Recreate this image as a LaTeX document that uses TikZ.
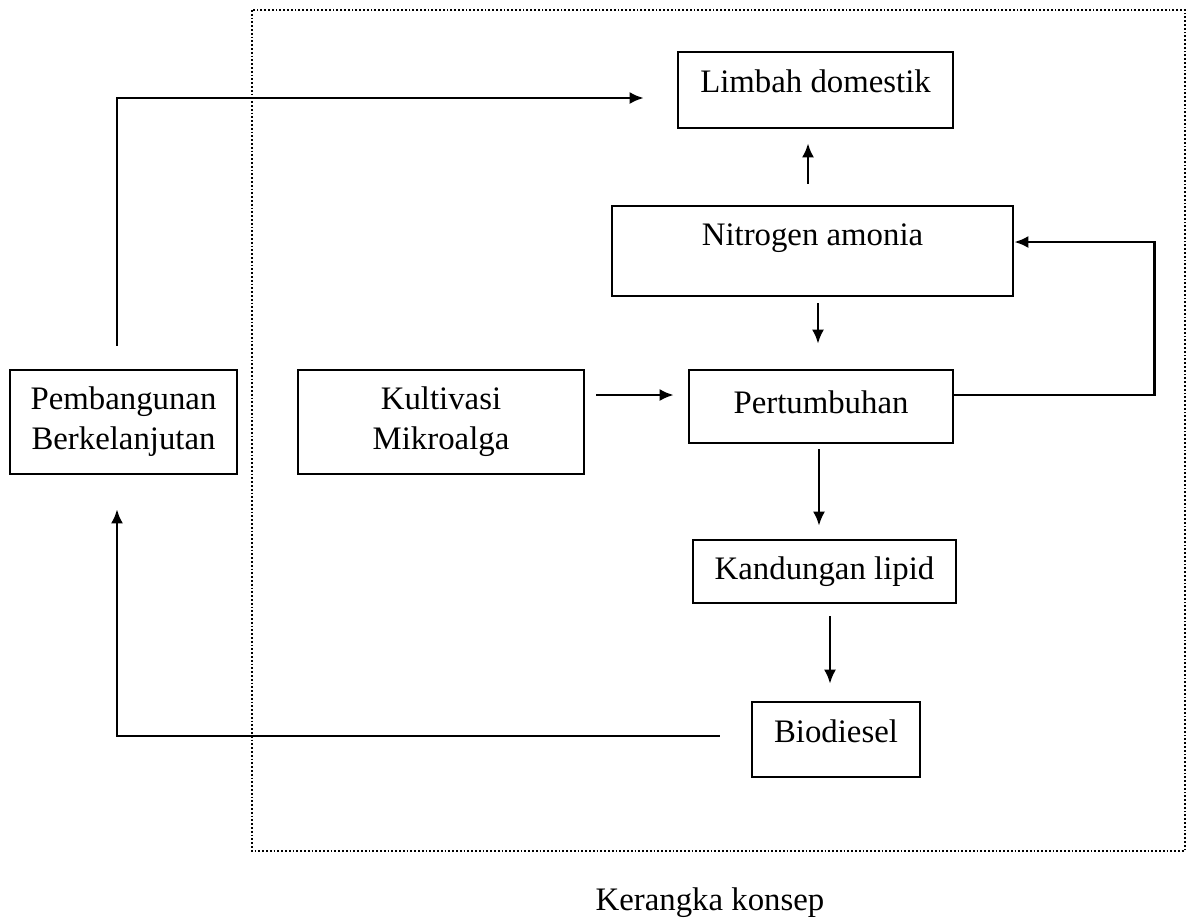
\documentclass[tikz,border=0pt]{standalone}
\usepackage{fontspec}
\setmainfont{Liberation Serif}
\usepackage{tikz}
\usetikzlibrary{arrows.meta,positioning,calc}

\begin{document}
\begin{tikzpicture}[x=0.5pt,y=-0.5pt,>=Latex,
    kotak/.style={draw,line width=1.3pt,inner sep=0pt,align=center,
      font=\fontsize{16.4}{20}\selectfont},
    panah/.style={-{Latex[length=7pt,width=6pt]},line width=1.3pt}]
    \useasboundingbox (0,0) rectangle (1187,923);

    \draw[densely dotted,line width=0.9pt] (252,10) rectangle (1185,851);

    \node[kotak,minimum width=137.5pt,minimum height=38pt,text depth=9pt] (limbah) at (815.5,90) {Limbah domestik};
    \node[kotak,minimum width=200.5pt,minimum height=45pt,text depth=16pt] (nitro) at (812.5,251) {Nitrogen amonia};
    \node[kotak,minimum width=132pt,minimum height=36.5pt,text depth=4.7pt] (tumbuh) at (821,406.5) {Pertumbuhan};
    \node[kotak,minimum width=143pt,minimum height=52pt] (kultur) at (441,422) {Kultivasi\\Mikroalga};
    \node[kotak,minimum width=113.5pt,minimum height=52pt] (bangun) at (123.5,422) {Pembangunan\\Berkelanjutan};
    \node[kotak,minimum width=131.5pt,minimum height=31.5pt] (lipid) at (824.5,571.5) {Kandungan lipid};
    \node[kotak,minimum width=84pt,minimum height=37.5pt,text depth=8.7pt] (biod) at (836,739.5) {Biodiesel};
    \node[font=\fontsize{16.4}{20}\selectfont] (judul) at (710,903) {Kerangka konsep};

    \draw[panah] ([xshift=-3.25pt,yshift=11.5pt]bangun.north) |- ([xshift=-16.5pt,yshift=-4pt]limbah.west);
    \draw[panah] ([xshift=-2.25pt,yshift=10.5pt]nitro.north) -- ([xshift=-3.75pt,yshift=-7pt]limbah.south);
    \draw[panah] ([xshift=2.75pt,yshift=-3pt]nitro.south) -- ([xshift=-1.5pt,yshift=12.5pt]tumbuh.north);
    \draw[panah] ([xshift=5.5pt,yshift=13.5pt]kultur.east) -- ([xshift=-7pt,yshift=5.75pt]tumbuh.west);
    \draw[panah] ([yshift=5.75pt]tumbuh.east) -- ++(200,0) |- ([yshift=4.5pt]nitro.east);
    \draw[panah] ([xshift=-1pt,yshift=-2.5pt]tumbuh.south) -- ([xshift=-2.75pt,yshift=6.5pt]lipid.north);
    \draw[panah] ([xshift=2.75pt,yshift=-6pt]lipid.south) -- ([xshift=-3pt,yshift=8.5pt]biod.north);
    \draw[panah] ([xshift=-15.5pt,yshift=1.75pt]biod.west) -| ([xshift=-3.25pt,yshift=-17pt]bangun.south);
\end{tikzpicture}
\end{document}
